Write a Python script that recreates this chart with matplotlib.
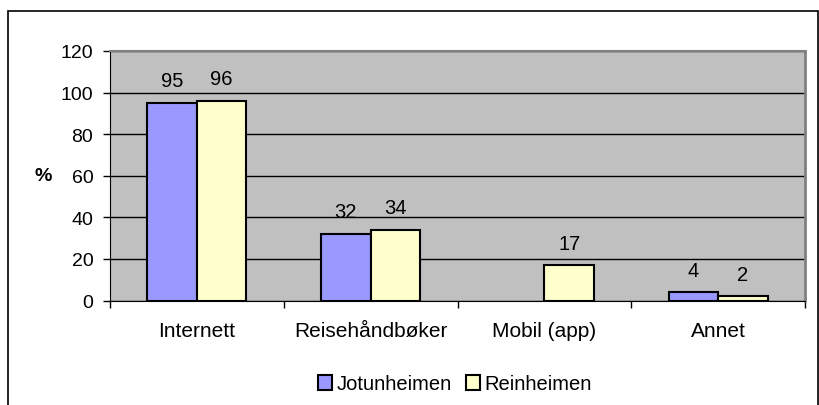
import numpy as np
import matplotlib
matplotlib.use('Agg')
from matplotlib import pyplot as plt
from matplotlib.patches import Rectangle

plt.rcParams['font.family'] = ['Liberation Sans', 'DejaVu Sans']

categories = ['Internett', 'Reisehåndbøker', 'Mobil (app)', 'Annet']
jotunheimen = [95, 32, None, 4]
reinheimen = [96, 34, 17, 2]
series_names = ['Jotunheimen', 'Reinheimen']
y_ticks = [0, 20, 40, 60, 80, 100, 120]

colors = ['#9999FF', '#FFFFCC']

fig = plt.figure(figsize=(8.19, 4.06), dpi=100)
ax = fig.add_axes([110/819., 1 - 301.5/406., 695/819., 249.5/406.])
ax.set_facecolor('#C0C0C0')

# outer chart border (bottom edge is cut off in the original)
fig.patches.append(Rectangle((8/819., -0.05), 810/819., 1 - 12/406. + 0.05,
                             transform=fig.transFigure, fill=False,
                             edgecolor='black', lw=1.2, zorder=0))

x = np.arange(len(categories))
w = 0.285
for i, vals in enumerate([jotunheimen, reinheimen]):
    xs = [xx for xx, v in zip(x, vals) if v is not None]
    vs = [v for v in vals if v is not None]
    pos = np.array(xs) + (i - 0.5) * w
    ax.bar(pos, vs, width=w, color=colors[i], edgecolor='black', lw=1.5,
           label=series_names[i], zorder=3)
    for p, v in zip(pos, vs):
        ax.annotate(str(v), (p, v), xytext=(0, 9), textcoords='offset points',
                    ha='center', va='bottom', fontsize=14.5)

ax.set_xlim(-0.5, len(categories) - 0.5)
ax.set_ylim(0, 120)
ax.set_yticks(y_ticks)
ax.yaxis.grid(True, color='black', lw=1)
ax.set_axisbelow(True)
ax.tick_params(axis='y', labelsize=14, length=5, width=1, pad=7)

ax.set_xticks(np.arange(len(categories) + 1) - 0.5)
ax.set_xticklabels([])
ax.set_xticks(x, minor=True)
ax.set_xticklabels(categories, minor=True, fontsize=15)
ax.tick_params(axis='x', which='major', length=5, width=1)
ax.tick_params(axis='x', which='minor', length=0, pad=15)

ax.spines['left'].set_color('black')
ax.spines['bottom'].set_color('black')
ax.spines['top'].set_color('#808080')
ax.spines['right'].set_color('#808080')
ax.spines['top'].set_linewidth(1.5)
ax.spines['right'].set_linewidth(2)

fig.text(43/819., 1 - 176.5/406., '%', fontsize=14, fontweight='bold',
         ha='center', va='center')

fig.legend(loc='center', bbox_to_anchor=(455/819., 1 - 385/406.), ncol=2,
           frameon=False, fontsize=14.5, handlelength=0.7, handleheight=0.7,
           handletextpad=0.22, columnspacing=0.7)

plt.savefig('out.png', dpi=100)
